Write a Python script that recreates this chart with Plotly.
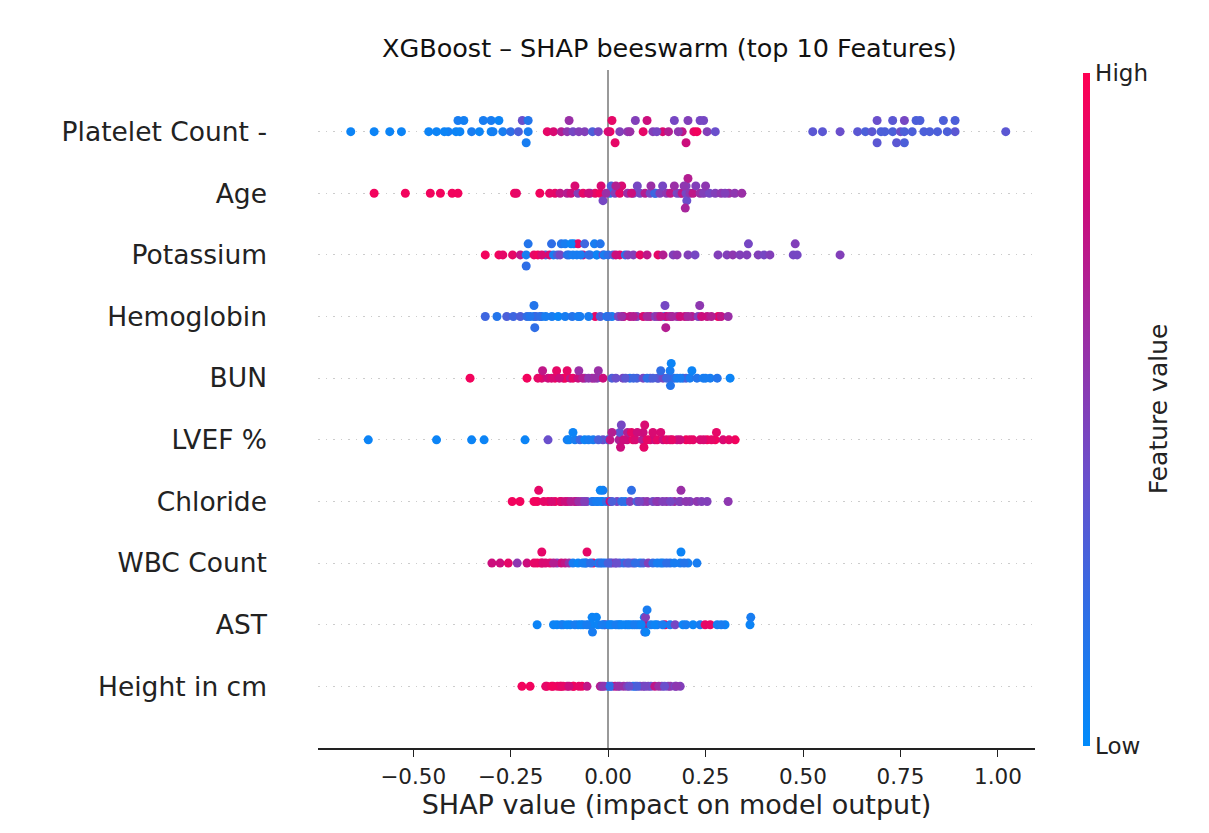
import numpy as np
import plotly.graph_objects as go

# === Dados (valor SHAP, valor normalizado da feature) ===
features = ["Height in cm", "AST", "WBC Count", "Chloride", "LVEF %",
            "BUN", "Hemoglobin", "Potassium", "Age", "Platelet Count -"]

platelet_shap = [-0.66, -0.60, -0.56, -0.53, -0.46, -0.44, -0.41, -0.39, -0.385, -0.38,
                 -0.37, -0.35, -0.33, -0.30, -0.30, -0.295, -0.27, -0.25, -0.23, -0.22,
                 -0.205, -0.205, -0.156, -0.14, -0.12, -0.105, -0.09, -0.06, -0.04, -0.025,
                 0.005, 0.01, 0.018, 0.03, 0.05, 0.056, 0.09, 0.115, 0.14, 0.155,
                 0.17, 0.19, 0.205, 0.22, 0.228, 0.236, 0.254, 0.275,
                 0.525, 0.55, 0.595, 0.64, 0.66, 0.677, 0.69, 0.69, 0.71, 0.73,
                 0.73, 0.75, 0.76, 0.76, 0.76, 0.78, 0.79, 0.81, 0.825, 0.845,
                 0.86, 0.89, 0.89, 1.02,
                 -0.10, -0.075, 0.0, 0.07, 0.10, 0.125, 0.18, 0.20, 0.245,
                 0.70, 0.74, 0.80, 0.87, -0.42, -0.32, -0.28, -0.21]
platelet_fv = [0.05, 0.05, 0.05, 0.05, 0.05, 0.05, 0.08, 0.05, 0.1, 0.05,
               0.08, 0.1, 0.05, 0.05, 0.1, 0.08, 0.1, 0.2, 0.3, 0.4,
               0.1, 0.15, 0.9, 0.85, 0.7, 0.55, 0.45, 0.5, 0.3, 0.45,
               0.95, 0.9, 0.9, 0.5, 0.55, 0.6, 0.9, 0.5, 0.85, 0.7,
               0.45, 0.75, 0.5, 0.9, 0.95, 0.45, 0.5, 0.4,
               0.35, 0.35, 0.4, 0.35, 0.3, 0.35, 0.4, 0.35, 0.3, 0.3,
               0.35, 0.4, 0.3, 0.45, 0.3, 0.3, 0.3, 0.3, 0.3, 0.3,
               0.3, 0.35, 0.3, 0.35,
               0.6, 0.5, 0.85, 0.5, 0.8, 0.45, 0.55, 0.8, 0.45,
               0.3, 0.35, 0.3, 0.3, 0.05, 0.1, 0.05, 0.1]

age_shap = [-0.60, -0.52, -0.456, -0.43, -0.40, -0.385, -0.24, -0.235, -0.175, -0.136,
            -0.123, -0.105, -0.095, -0.077, -0.064, -0.046, -0.033, -0.02, -0.018, -0.013,
            0.005, 0.008, 0.018, 0.03, 0.035, 0.05, 0.065, 0.082, 0.095, 0.108,
            0.12, 0.122, 0.133, 0.15, 0.16, 0.177, 0.185, 0.19, 0.2, 0.2,
            0.202, 0.205, 0.21, 0.218, 0.236, 0.245, 0.26, 0.275, 0.29, 0.31,
            0.325, 0.343,
            -0.15, -0.085, -0.05, -0.005, 0.02, 0.06, 0.075, 0.11, 0.14, 0.17,
            0.195, 0.198, 0.225, 0.25, 0.30]
age_fv = [0.95, 0.95, 0.95, 0.95, 0.95, 0.95, 0.95, 0.9, 0.95, 0.9,
          0.75, 0.7, 0.8, 0.5, 0.9, 0.5, 0.9, 0.95, 0.85, 0.45,
          0.15, 0.3, 0.5, 0.9, 0.85, 0.6, 0.5, 0.45, 0.7, 0.45,
          0.2, 0.25, 0.5, 0.55, 0.75, 0.45, 0.5, 0.75, 0.45, 0.5,
          0.4, 0.7, 0.55, 0.75, 0.6, 0.5, 0.45, 0.5, 0.55, 0.6,
          0.55, 0.6,
          0.9, 0.85, 0.8, 0.6, 0.7, 0.8, 0.45, 0.6, 0.45, 0.6,
          0.55, 0.65, 0.5, 0.55, 0.5]

potassium_shap = [-0.315, -0.28, -0.27, -0.245, -0.225, -0.21, -0.205, -0.21, -0.19, -0.18,
                  -0.16, -0.15, -0.14, -0.13, -0.123, -0.12, -0.105, -0.1, -0.09, -0.088,
                  -0.08, -0.077, -0.064, -0.06, -0.046, -0.03, -0.028, -0.013, -0.01, 0.0,
                  0.013, 0.03, 0.044, 0.051, 0.065, 0.082, 0.128, 0.141, 0.167, 0.177,
                  0.205, 0.223, 0.282, 0.305, 0.32, 0.338, 0.356, 0.36, 0.385, 0.40,
                  0.415, 0.475, 0.48, 0.485, 0.595,
                  -0.17, -0.145, -0.11, -0.095, -0.07, -0.05, -0.035, -0.02, 0.02, 0.10]
potassium_fv = [0.95, 0.95, 0.9, 0.9, 0.75, 0.1, 0.15, 0.2, 0.9, 0.95,
                0.3, 0.85, 0.1, 0.3, 0.45, 0.15, 0.2, 0.15, 0.1, 0.05,
                0.1, 0.9, 0.7, 0.25, 0.1, 0.15, 0.05, 0.45, 0.1, 0.2,
                0.3, 0.9, 0.2, 0.5, 0.5, 0.9, 0.9, 0.7, 0.5, 0.55,
                0.5, 0.45, 0.5, 0.5, 0.55, 0.5, 0.5, 0.45, 0.5, 0.45,
                0.5, 0.45, 0.5, 0.45, 0.5,
                0.85, 0.2, 0.1, 0.05, 0.1, 0.2, 0.1, 0.15, 0.8, 0.75]

hemoglobin_shap = [-0.315, -0.285, -0.26, -0.243, -0.225, -0.208, -0.19, -0.19, -0.188, -0.185,
                   -0.17, -0.144, -0.128, -0.11, -0.092, -0.077, -0.072, -0.033, -0.02, -0.003,
                   0.01, 0.026, 0.04, 0.056, 0.074, 0.09, 0.108, 0.12, 0.128, 0.145,
                   0.146, 0.148, 0.15, 0.159, 0.177, 0.197, 0.215, 0.231, 0.235, 0.254,
                   0.282, 0.29, 0.308,
                   -0.20, -0.175, -0.16, -0.05, 0.0, 0.035, 0.065, 0.10, 0.135, 0.165,
                   0.185, 0.205, 0.24, 0.265]
hemoglobin_fv = [0.25, 0.15, 0.3, 0.25, 0.3, 0.2, 0.1, 0.15, 0.2, 0.25,
                 0.1, 0.1, 0.05, 0.1, 0.15, 0.1, 0.1, 0.9, 0.3, 0.1,
                 0.1, 0.45, 0.8, 0.75, 0.5, 0.85, 0.75, 0.5, 0.6, 0.15,
                 0.45, 0.7, 0.8, 0.7, 0.6, 0.75, 0.7, 0.5, 0.55, 0.75,
                 0.9, 0.75, 0.6,
                 0.15, 0.2, 0.1, 0.1, 0.2, 0.6, 0.7, 0.65, 0.75, 0.65,
                 0.8, 0.65, 0.8, 0.7]

bun_shap = [-0.354, -0.208, -0.17, -0.168, -0.154, -0.136, -0.132, -0.115, -0.11, -0.097,
            -0.09, -0.077, -0.075, -0.059, -0.041, -0.028, -0.025, -0.013, 0.01, 0.038,
            0.056, 0.074, 0.09, 0.108, 0.126, 0.13, 0.141, 0.158, 0.159, 0.16,
            0.162, 0.17, 0.177, 0.192, 0.2, 0.21, 0.228, 0.244, 0.262, 0.28,
            0.313,
            -0.18, -0.145, -0.125, -0.105, -0.065, -0.05, -0.035, 0.02, 0.045, 0.065,
            0.10, 0.115, 0.135, 0.15, 0.185, 0.215, 0.25]
bun_fv = [0.95, 0.95, 0.85, 0.75, 0.8, 0.95, 0.9, 0.85, 0.95, 0.75,
          0.9, 0.8, 0.6, 0.5, 0.7, 0.5, 0.6, 0.8, 0.3, 0.45,
          0.15, 0.3, 0.45, 0.35, 0.3, 0.35, 0.45, 0.3, 0.1, 0.15,
          0.05, 0.2, 0.1, 0.15, 0.3, 0.1, 0.15, 0.1, 0.1, 0.15,
          0.05,
          0.9, 0.85, 0.8, 0.9, 0.7, 0.55, 0.6, 0.4, 0.35, 0.25,
          0.2, 0.3, 0.2, 0.25, 0.1, 0.05, 0.1]

lvef_shap = [-0.615, -0.44, -0.35, -0.318, -0.213, -0.154, -0.105, -0.1, -0.085, -0.072,
             -0.06, -0.038, -0.013, 0.0, 0.005, 0.028, 0.03, 0.03, 0.032, 0.034,
             0.049, 0.05, 0.064, 0.07, 0.088, 0.09, 0.092, 0.094, 0.108, 0.12,
             0.126, 0.141, 0.15, 0.159, 0.177, 0.2, 0.218, 0.236, 0.254, 0.275,
             0.278, 0.295, 0.326,
             -0.09, -0.05, -0.025, 0.01, 0.04, 0.06, 0.075, 0.10, 0.115, 0.135,
             0.165, 0.185, 0.21, 0.245, 0.265, 0.31]
lvef_fv = [0.05, 0.05, 0.05, 0.05, 0.05, 0.4, 0.1, 0.05, 0.1, 0.25,
           0.05, 0.1, 0.4, 0.3, 0.75, 0.6, 0.7, 0.35, 0.8, 0.45,
           0.8, 0.7, 0.9, 0.85, 0.7, 0.8, 0.9, 0.85, 0.85, 0.8,
           0.9, 0.8, 0.9, 0.85, 0.75, 0.95, 0.9, 0.85, 0.95, 0.95,
           0.9, 0.85, 0.95,
           0.05, 0.1, 0.3, 0.7, 0.8, 0.9, 0.8, 0.9, 0.85, 0.85,
           0.9, 0.8, 0.9, 0.85, 0.9, 0.9]

chloride_shap = [-0.246, -0.226, -0.182, -0.178, -0.154, -0.136, -0.123, -0.12, -0.103, -0.085,
                 -0.082, -0.067, -0.054, -0.041, -0.038, -0.026, -0.017, -0.015, -0.013, -0.005,
                 0.005, 0.023, 0.044, 0.056, 0.06, 0.074, 0.09, 0.1, 0.115, 0.128,
                 0.15, 0.17, 0.183, 0.185, 0.187, 0.21, 0.228, 0.254, 0.308,
                 -0.19, -0.165, -0.145, -0.11, -0.095, -0.075, -0.06, -0.03, -0.02, 0.01,
                 0.035, 0.08, 0.125, 0.14, 0.16, 0.20, 0.24]
chloride_fv = [0.95, 0.95, 0.95, 0.9, 0.95, 0.9, 0.95, 0.85, 0.75, 0.8,
               0.7, 0.5, 0.45, 0.1, 0.15, 0.1, 0.15, 0.05, 0.1, 0.2,
               0.85, 0.45, 0.1, 0.5, 0.2, 0.3, 0.5, 0.55, 0.45, 0.5,
               0.55, 0.6, 0.45, 0.5, 0.6, 0.5, 0.55, 0.5, 0.55,
               0.95, 0.9, 0.85, 0.8, 0.7, 0.6, 0.5, 0.1, 0.05, 0.3,
               0.2, 0.45, 0.55, 0.5, 0.45, 0.55, 0.5]

wbc_shap = [-0.298, -0.277, -0.256, -0.233, -0.208, -0.182, -0.172, -0.17, -0.168, -0.149,
            -0.131, -0.12, -0.11, -0.1, -0.09, -0.077, -0.059, -0.056, -0.054, -0.038,
            -0.026, -0.02, -0.008, 0.005, 0.01, 0.018, 0.03, 0.04, 0.049, 0.064,
            0.082, 0.09, 0.103, 0.115, 0.126, 0.141, 0.159, 0.185, 0.187, 0.205,
            0.228,
            -0.19, -0.16, -0.14, -0.065, -0.045, -0.015, 0.0, 0.022, 0.055, 0.07,
            0.135, 0.15, 0.17, 0.195]
wbc_fv = [0.8, 0.8, 0.9, 0.55, 0.8, 0.95, 0.95, 0.9, 0.85, 0.9,
          0.5, 0.8, 0.75, 0.6, 0.1, 0.05, 0.1, 0.15, 0.9, 0.9,
          0.1, 0.25, 0.1, 0.45, 0.35, 0.5, 0.3, 0.2, 0.35, 0.45,
          0.1, 0.3, 0.5, 0.2, 0.1, 0.1, 0.15, 0.1, 0.05, 0.1,
          0.1,
          0.9, 0.85, 0.7, 0.1, 0.2, 0.15, 0.3, 0.4, 0.3, 0.2,
          0.1, 0.2, 0.1, 0.15]

ast_shap = [-0.182, -0.131, -0.12, -0.115, -0.097, -0.077, -0.064, -0.05, -0.042, -0.041,
            -0.04, -0.026, -0.01, -0.008, 0.0, 0.01, 0.026, 0.03, 0.044, 0.05,
            0.062, 0.074, 0.08, 0.09, 0.093, 0.094, 0.095, 0.096, 0.097, 0.11,
            0.126, 0.146, 0.159, 0.172, 0.192, 0.218, 0.236, 0.249, 0.262, 0.28,
            0.3, 0.364, 0.366,
            -0.14, -0.105, -0.085, -0.07, -0.055, -0.03, -0.015, 0.005, 0.02, 0.035,
            0.055, 0.068, 0.085, 0.10, 0.12, 0.14, 0.20, 0.29]
ast_fv = [0.05, 0.05, 0.05, 0.1, 0.05, 0.05, 0.1, 0.05, 0.05, 0.05,
          0.1, 0.05, 0.05, 0.4, 0.1, 0.05, 0.05, 0.05, 0.05, 0.1,
          0.1, 0.05, 0.1, 0.45, 0.1, 0.2, 0.75, 0.5, 0.05, 0.1,
          0.1, 0.9, 0.1, 0.45, 0.05, 0.05, 0.1, 0.9, 0.9, 0.1,
          0.05, 0.05, 0.1,
          0.05, 0.05, 0.1, 0.05, 0.1, 0.05, 0.1, 0.05, 0.1, 0.05,
          0.05, 0.1, 0.05, 0.1, 0.05, 0.1, 0.1, 0.1]

height_shap = [-0.221, -0.2, -0.157, -0.141, -0.13, -0.123, -0.12, -0.105, -0.09, -0.088,
               -0.067, -0.054, -0.02, -0.015, 0.0, 0.01, 0.018, 0.03, 0.04, 0.049,
               0.064, 0.07, 0.082, 0.09, 0.103, 0.11, 0.12, 0.138, 0.154, 0.16,
               0.172, 0.185,
               -0.16, -0.145, -0.115, -0.10, -0.075, -0.01, 0.005, 0.025, 0.055, 0.075,
               0.095, 0.13, 0.145, 0.175]
height_fv = [0.95, 0.95, 0.95, 0.9, 0.9, 0.95, 0.9, 0.75, 0.9, 0.95,
             0.95, 0.75, 0.7, 0.6, 0.1, 0.3, 0.75, 0.45, 0.6, 0.5,
             0.15, 0.2, 0.45, 0.5, 0.5, 0.4, 0.75, 0.45, 0.5, 0.55,
             0.45, 0.5,
             0.9, 0.95, 0.9, 0.8, 0.9, 0.55, 0.2, 0.6, 0.4, 0.3,
             0.45, 0.6, 0.4, 0.55]

rows = [(height_shap, height_fv), (ast_shap, ast_fv), (wbc_shap, wbc_fv),
        (chloride_shap, chloride_fv), (lvef_shap, lvef_fv), (bun_shap, bun_fv),
        (hemoglobin_shap, hemoglobin_fv), (potassium_shap, potassium_fv),
        (age_shap, age_fv), (platelet_shap, platelet_fv)]


# === Empilhamento tipo beeswarm (mesma lógica do shap) ===
def swarm_offsets(vals, row_height=0.4, nbins=100):
    vals = np.asarray(vals, dtype=float)
    quant = np.round(nbins * (vals - vals.min()) / (vals.max() - vals.min() + 1e-8))
    inds = np.argsort(quant, kind="stable")
    ys = np.zeros(len(vals))
    layer, last_bin = 0, -1
    for i in inds:
        if quant[i] != last_bin:
            layer = 0
        ys[i] = np.ceil(layer / 2) * ((layer % 2) * 2 - 1)
        layer += 1
        last_bin = quant[i]
    ys *= 0.9 * (row_height / np.max(ys + 1))
    return ys


xs, ys, cs = [], [], []
for pos, (sv, fv) in enumerate(rows):
    xs.extend(sv)
    ys.extend(pos + swarm_offsets(sv))
    cs.extend(fv)

red_blue = [[0.0, "#008bfb"], [0.2, "#2f6ee6"], [0.4, "#6a4fcc"],
            [0.6, "#9a2fa6"], [0.8, "#cc0d7c"], [1.0, "#ff0052"]]

fig = go.Figure(go.Scatter(
    x=xs, y=ys, mode="markers",
    marker=dict(
        size=9, color=cs, colorscale=red_blue, cmin=0, cmax=1,
        line=dict(width=0),
        colorbar=dict(
            tickvals=[0, 1], ticktext=["Low", "High"], ticks="",
            thickness=7, lenmode="pixels", len=673, y=0.5, yanchor="middle",
            ypad=0, xpad=0,
            x=1.067, xanchor="left", outlinewidth=0,
            tickfont=dict(size=23, color="#222"),
        ),
    ),
    hoverinfo="skip", showlegend=False,
))

fig.update_layout(
    width=1209, height=833,
    margin=dict(l=310, r=182, t=62, b=93),
    plot_bgcolor="white", paper_bgcolor="white",
    font=dict(family="DejaVu Sans", color="#222"),
    title=dict(text="XGBoost – SHAP beeswarm (top 10 Features)",
               x=0.49, xref="paper", y=0.952, yanchor="middle",
               font=dict(size=25.5, color="#111")),
    xaxis=dict(
        range=[-0.744, 1.095], tickvals=[-0.5, -0.25, 0, 0.25, 0.5, 0.75, 1.0],
        tickformat=".2f", showgrid=False,
        zeroline=True, zerolinecolor="#999999", zerolinewidth=2,
        showline=True, linecolor="#222", linewidth=2,
        ticks="outside", ticklen=7, tickcolor="#222", ticklabelstandoff=1,
        tickfont=dict(size=21.5),
        title=dict(text="SHAP value (impact on model output)", font=dict(size=27), standoff=0),
    ),
    yaxis=dict(
        range=[-1, 10], tickvals=list(range(10)), ticktext=features,
        showgrid=True, gridcolor="#cccccc", griddash="1.5px,6px", gridwidth=1,
        zeroline=False, showline=False, ticks="",
        tickfont=dict(size=26.5), ticklabelstandoff=50,
    ),
    annotations=[dict(text="Feature value", textangle=-90, showarrow=False,
                      xref="paper", yref="paper", x=1.172, y=0.5,
                      xanchor="center", yanchor="middle",
                      font=dict(size=25, color="#222"))],
)

fig.write_html("out.html")
